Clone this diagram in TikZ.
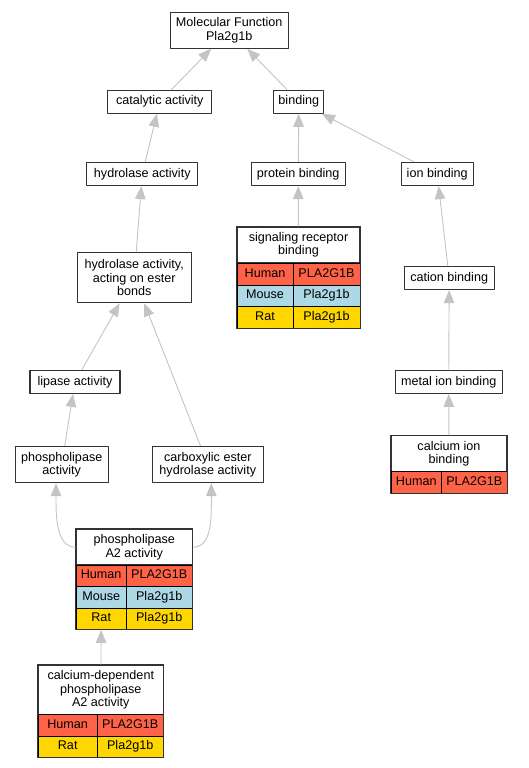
\documentclass[tikz,border=0pt]{standalone}
\usepackage{fontspec}
\setmainfont{Liberation Sans}
\usetikzlibrary{arrows.meta}
\definecolor{human}{HTML}{FF6347}
\definecolor{mouse}{HTML}{ADD8E6}
\definecolor{rat}{HTML}{FFD700}
\definecolor{edgegray}{HTML}{C4C4C4}
\definecolor{boxgray}{HTML}{333333}
\begin{document}
\begin{tikzpicture}[x=1pt, y=-1pt, line join=round, >={Triangle[width=10.5pt,length=13pt]},
	font=\fontsize{12.6}{13.3}\selectfont,
	term/.style={draw=boxgray, line width=1.2pt, fill=white, align=center, inner sep=0pt},
	cell/.style={draw=black, line width=0.9pt, inner sep=0pt, text height=8.9pt, text depth=2.7pt},
	frame/.style={draw=boxgray, line width=1.1pt},
	isa/.style={->, draw=edgegray, line width=0.9pt}]
	\useasboundingbox (0,0) rectangle (529,768);
	%Terms
	\node[term, minimum width=118pt, minimum height=36pt] (mf) at (229.2,30.2) {Molecular Function\\Pla2g1b};
	\node[term, minimum width=104pt, minimum height=23pt] (cat) at (159.8,101.7) {catalytic activity};
	\node[term, minimum width=50pt, minimum height=23pt] (bind) at (298.8,101.7) {binding};
	\node[term, minimum width=111pt, minimum height=23pt] (hyd) at (142.3,174) {hydrolase activity};
	\node[term, minimum width=94pt, minimum height=23pt] (prot) at (298.2,174) {protein binding};
	\node[term, minimum width=72pt, minimum height=23pt] (ion) at (437.2,174) {ion binding};
	\node[term, minimum width=114pt, minimum height=50pt] (ester) at (134.2,277.7) {hydrolase activity,\\acting on ester\\bonds};
	\node[term, minimum width=90pt, minimum height=23pt] (cation) at (449.2,278) {cation binding};
	\node[term, minimum width=90pt, minimum height=23pt] (lip) at (75,381.8) {lipase activity};
	\node[term, minimum width=107pt, minimum height=23pt] (metal) at (448.7,381.8) {metal ion binding};
	\node[term, minimum width=93pt, minimum height=36pt] (phl) at (61.7,464.5) {phospholipase\\activity};
	\node[term, minimum width=111pt, minimum height=36pt] (carb) at (207.8,464.5) {carboxylic ester\\hydrolase activity};
	%Terms with genes
	\node[term, minimum width=123pt, minimum height=36pt] (srb) at (298.5,245) {signaling receptor\\binding};
	\foreach \sp/\gene/\col/\y [count=\i] in {Human/PLA2G1B/human/274.2, Mouse/Pla2g1b/mouse/295.8, Rat/Pla2g1b/rat/317.2}{
		\node[cell, fill=\col, minimum width=56pt, minimum height=21.5pt] (srb-l\i) at (265,\y) {\sp};
		\node[cell, fill=\col, minimum width=67pt, minimum height=21.5pt] (srb-r\i) at (326.5,\y) {\gene};
	}
	\draw[frame] (srb.north west) rectangle (srb-r3.south east);
	\node[term, minimum width=116pt, minimum height=35.6pt] (cib) at (449,453.5) {calcium ion\\binding};
	\node[cell, fill=human, minimum width=50.7pt, minimum height=22pt] (cib-l1) at (416.3,482.3) {Human};
	\node[cell, fill=human, minimum width=65.3pt, minimum height=22pt] (cib-r1) at (474.3,482.3) {PLA2G1B};
	\draw[frame] (cib.north west) rectangle (cib-r1.south east);
	\node[term, minimum width=116pt, minimum height=35.7pt] (pla) at (134.3,547.2) {phospholipase\\A2 activity};
	\foreach \sp/\gene/\col/\y [count=\i] in {Human/PLA2G1B/human/575.8, Mouse/Pla2g1b/mouse/597.3, Rat/Pla2g1b/rat/618.7}{
		\node[cell, fill=\col, minimum width=49.7pt, minimum height=21.5pt] (pla-l\i) at (101.2,\y) {\sp};
		\node[cell, fill=\col, minimum width=66.3pt, minimum height=21.5pt] (pla-r\i) at (159.2,\y) {\gene};
	}
	\draw[frame] (pla.north west) rectangle (pla-r3.south east);
	\node[term, minimum width=125pt, minimum height=49.7pt] (cad) at (100.8,689.8) {calcium-dependent\\phospholipase\\A2 activity};
	\foreach \sp/\gene/\col/\y [count=\i] in {Human/PLA2G1B/human/725.3, Rat/Pla2g1b/rat/746.7}{
		\node[cell, fill=\col, minimum width=58.7pt, minimum height=21.4pt] (cad-l\i) at (67.7,\y) {\sp};
		\node[cell, fill=\col, minimum width=66.3pt, minimum height=21.4pt] (cad-r\i) at (130.2,\y) {\gene};
	}
	\draw[frame] (cad.north west) rectangle (cad-r2.south east);
	%Is-a edges
	\draw[isa] (cat) -- (mf);
	\draw[isa] (bind) -- (mf);
	\draw[isa] (hyd) -- (cat);
	\draw[isa] (prot) -- (bind);
	\draw[isa] (ion) -- (bind);
	\draw[isa] (srb) -- (prot);
	\draw[isa] (ester) -- (hyd);
	\draw[isa] (cation) -- (ion);
	\draw[isa] (lip) -- (ester);
	\draw[isa] (carb) -- (ester);
	\draw[isa] (phl) -- (lip);
	\draw[isa] (metal) -- (cation);
	\draw[isa] (cib) -- (metal);
	\draw[isa] (pla.west) .. controls +(-20,0) and +(0,32) .. ([xshift=-5.7pt]phl.south);
	\draw[isa] (pla.east) .. controls +(20,0) and +(0,32) .. ([xshift=3.5pt]carb.south);
	\draw[isa] (cad) -- (pla-l3);
\end{tikzpicture}
\end{document}
